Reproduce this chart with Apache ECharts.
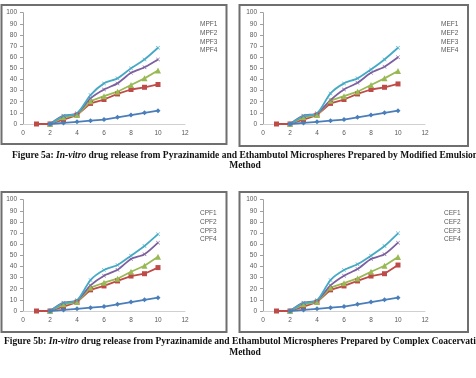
<!DOCTYPE html>
<html>
<head>
<meta charset="utf-8">
<script src="https://cdn.jsdelivr.net/npm/echarts@6/dist/echarts.min.js"></script>
<style>
  html, body { margin: 0; padding: 0; background: #fff; }
  #chart { width: 476px; height: 378px; }
</style>
</head>
<body>
<div id="chart"></div>
<script>
// time points (h); the red series also has a point at t = 1
var timeRed = [1, 2, 3, 4, 5, 6, 7, 8, 9, 10]
var timeOther = [2, 3, 4, 5, 6, 7, 8, 9, 10]

var xTicks = [0, 2, 4, 6, 8, 10, 12]
var yTicks = [0, 10, 20, 30, 40, 50, 60, 70, 80, 90, 100]

// cumulative % drug release
var mpfBlue = [0, 1, 2, 3, 4, 6, 8, 10, 12]
var mpfRed = [0, 0, 4, 8, 18.5, 22, 27, 31, 33, 35.5]
var mpfGreen = [0, 6, 8, 20.5, 25, 29, 35, 41, 48]
var mpfPurple = [0, 7.5, 9.5, 23, 31, 36.5, 46, 51, 58]
var mpfCyan = [0, 7, 9.5, 26, 36.5, 41, 50, 58, 68.5]

var mefBlue = [0, 1, 2, 3, 4, 6, 8, 10, 12]
var mefRed = [0, 0, 4, 8, 18.5, 22, 27, 31, 33, 36]
var mefGreen = [0, 6, 8, 21, 25, 29, 35, 41, 47.6]
var mefPurple = [0, 7.5, 9.5, 21.5, 31, 37, 46, 51.5, 60]
var mefCyan = [0, 7, 9.5, 27.5, 36.5, 41, 49, 58, 68.5]

var cpfBlue = [0, 1, 2, 3, 4, 6, 8, 10, 12]
var cpfRed = [0, 0, 4, 8, 19, 22.5, 27, 31.4, 33.5, 39]
var cpfGreen = [0, 6, 8, 21, 25.4, 29, 35.3, 40.7, 48.8]
var cpfPurple = [0, 7.5, 9.5, 23, 31.7, 37, 46.7, 51, 61.4]
var cpfCyan = [0, 7, 9.5, 27.8, 36.8, 41.3, 49.7, 58.4, 69]

var cefBlue = [0, 1, 2, 3, 4, 6, 8, 10, 12]
var cefRed = [0, 0, 4, 8, 19, 22.5, 27, 31.4, 33.5, 41.3]
var cefGreen = [0, 6, 8, 21, 25, 29.3, 35.3, 40.7, 48.5]
var cefPurple = [0, 7.5, 9.5, 23, 31.7, 37.7, 46.7, 51, 61.4]
var cefCyan = [0, 7, 9.5, 27.8, 36.8, 42, 49.7, 58.4, 69.8]

var panelNames = ['MPF', 'MEF', 'CPF', 'CEF']
var panelData = [
  [mpfBlue, mpfRed, mpfGreen, mpfPurple, mpfCyan],
  [mefBlue, mefRed, mefGreen, mefPurple, mefCyan],
  [cpfBlue, cpfRed, cpfGreen, cpfPurple, cpfCyan],
  [cefBlue, cefRed, cefGreen, cefPurple, cefCyan]
]

var caption1 = ['Figure 5a: ', 'In-vitro', ' drug release from Pyrazinamide and Ethambutol Microspheres Prepared by Modified Emulsion']
var caption2 = ['Figure 5b: ', 'In-vitro', ' drug release from Pyrazinamide and Ethambutol Microspheres Prepared by Complex Coacervation']
var captionEnd = 'Method'

var colors = ['#4a7ebb', '#be4b48', '#98b954', '#7d60a0', '#46aac5']
var crossPath = 'path://M0,1L1,0L5,4L9,0L10,1L6,5L10,9L9,10L5,6L1,10L0,9L4,5Z'
var symbols = ['diamond', 'rect', 'triangle', crossPath, crossPath]
var symbolSizes = [5, 5, 6, 4, 4]

// plot area + frame + legend position of each panel
var layout = [
  { left: 23, top: 12.7, frame: [1.5, 5, 225, 139], legendLeft: 190, legendTop: 15 },
  { left: 263, top: 12.7, frame: [239.5, 5, 228.5, 141], legendLeft: 431, legendTop: 15 },
  { left: 23, top: 199.7, frame: [1.5, 192, 225, 140], legendLeft: 190, legendTop: 204 },
  { left: 263, top: 199.7, frame: [239.5, 192, 228.5, 140], legendLeft: 434, legendTop: 204 }
]

var labelFont = { fontSize: 6.5, color: '#595959', fontFamily: 'Liberation Sans' }

var grids = []
var xAxes = []
var yAxes = []
var legends = []
var series = []
var graphics = []

layout.forEach(function(p, i) {
  grids.push({ left: p.left, top: p.top, width: 162, height: 111.3 })
  xAxes.push({
    type: 'value',
    gridIndex: i,
    min: xTicks[0],
    max: xTicks[xTicks.length - 1],
    interval: 2,
    axisLine: { show: true, onZero: false, lineStyle: { color: '#d0d0d0', width: 1 } },
    axisTick: { show: false },
    splitLine: { show: false },
    axisLabel: Object.assign({ margin: 6 }, labelFont)
  })
  yAxes.push({
    type: 'value',
    gridIndex: i,
    min: yTicks[0],
    max: yTicks[yTicks.length - 1],
    interval: 10,
    axisLine: { show: true, lineStyle: { color: '#a0a0a0', width: 1 } },
    axisTick: { show: true, length: 3, lineStyle: { color: '#a0a0a0' } },
    splitLine: { show: false },
    axisLabel: Object.assign({ margin: 6 }, labelFont)
  })

  var names = []
  for (var k = 1; k <= 4; k++) names.push(panelNames[i] + k)
  legends.push({
    left: p.legendLeft,
    top: p.legendTop,
    orient: 'vertical',
    icon: 'none',
    itemWidth: 0,
    itemHeight: 8,
    itemGap: 0.9,
    selectedMode: false,
    data: names,
    textStyle: Object.assign({ lineHeight: 8 }, labelFont)
  })

  panelData[i].forEach(function(vals, s) {
    var xs = s === 1 ? timeRed : timeOther
    series.push({
      type: 'line',
      name: s < 4 ? names[s] : panelNames[i] + '5',
      xAxisIndex: i,
      yAxisIndex: i,
      data: vals.map(function(v, j) { return [xs[j], v] }),
      symbol: symbols[s],
      symbolSize: symbolSizes[s],
      smooth: s >= 3 ? 0.25 : false,
      lineStyle: { color: colors[s], width: 1.8 },
      itemStyle: { color: colors[s] },
      z: s === 0 ? 5 : 3
    })
  })

  graphics.push({
    type: 'rect',
    shape: { x: p.frame[0], y: p.frame[1], width: p.frame[2], height: p.frame[3] },
    style: { fill: null, stroke: '#6f6f6f', lineWidth: 2 },
    silent: true
  })
})

function captionText(parts, y) {
  return {
    type: 'text',
    x: 245,
    y: y,
    silent: true,
    style: {
      text: '{b|' + parts[0] + '}{i|' + parts[1] + '}{b|' + parts[2] + '}',
      align: 'center',
      verticalAlign: 'middle',
      rich: {
        b: { fontFamily: 'Liberation Serif', fontWeight: 'bold', fontSize: 9.5, fill: '#111' },
        i: { fontFamily: 'Liberation Serif', fontWeight: 'bold', fontStyle: 'italic', fontSize: 9.5, fill: '#111' }
      }
    }
  }
}

function methodText(y) {
  return {
    type: 'text',
    x: 245,
    y: y,
    silent: true,
    style: {
      text: captionEnd,
      align: 'center',
      verticalAlign: 'middle',
      fontFamily: 'Liberation Serif',
      fontWeight: 'bold',
      fontSize: 9.5,
      fill: '#111'
    }
  }
}

graphics.push(captionText(caption1, 155.5))
graphics.push(methodText(166))
graphics.push(captionText(caption2, 342))
graphics.push(methodText(352.5))

var chart = echarts.init(document.getElementById('chart'))
chart.setOption({
  animation: false,
  backgroundColor: '#fff',
  grid: grids,
  xAxis: xAxes,
  yAxis: yAxes,
  legend: legends,
  series: series,
  graphic: graphics
})
</script>
</body>
</html>
